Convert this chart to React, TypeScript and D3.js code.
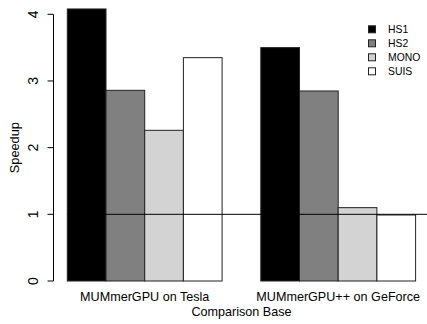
import React, { useEffect, useRef } from 'react';
import * as d3 from 'd3';

// chart values
const groups = ['MUMmerGPU on Tesla', 'MUMmerGPU++ on GeForce'];
const seriesNames = ['HS1', 'HS2', 'MONO', 'SUIS'];
const seriesColors = ['#000000', '#808080', '#d3d3d3', '#ffffff'];
const hs1 = [4.08, 3.5];
const hs2 = [2.86, 2.85];
const mono = [2.26, 1.1];
const suis = [3.35, 0.99];
const yTicks = [0, 1, 2, 3, 4];
const baseline = 1;

const W = 427;
const H = 324;
const FONT = '"Liberation Sans", Arial, Helvetica, sans-serif';

export default function App() {
  const ref = useRef<SVGSVGElement | null>(null);

  useEffect(() => {
    const svg = d3.select(ref.current);
    svg.selectAll('*').remove();

    const values = [hs1, hs2, mono, suis];
    const rows = groups.map((g, gi) => ({
      group: g,
      bars: seriesNames.map((s, si) => ({ key: s, value: values[si][gi], color: seriesColors[si] })),
    }));

    // x: outer band per group, inner band per series (R barplot beside, space = c(0,1))
    const x0 = d3.scaleBand().domain(groups).range([67.3, 415.6]).paddingInner(0.2).paddingOuter(0);
    const x1 = d3.scaleBand().domain(seriesNames).range([0, x0.bandwidth()]).padding(0);
    const y = d3.scaleLinear().domain([0, 4]).range([281, 14.3]);

    // bars
    const g = svg.selectAll('g.grp')
      .data(rows)
      .enter().append('g')
      .attr('class', 'grp')
      .attr('transform', (d) => `translate(${x0(d.group)},0)`);

    g.selectAll('rect')
      .data((d) => d.bars)
      .enter().append('rect')
      .attr('x', (d) => x1(d.key) as number)
      .attr('y', (d) => y(d.value))
      .attr('width', x1.bandwidth())
      .attr('height', (d) => y(0) - y(d.value))
      .attr('fill', (d) => d.color)
      .attr('stroke', '#222')
      .attr('stroke-width', 1);

    // reference line at speedup = 1
    svg.append('line')
      .attr('x1', x0(groups[0]) as number)
      .attr('x2', W)
      .attr('y1', y(baseline))
      .attr('y2', y(baseline))
      .attr('stroke', '#000')
      .attr('stroke-width', 1);

    // y axis (R style: ticks out, labels parallel to axis)
    const axisX = 53.5;
    const ax = svg.append('g');
    ax.append('line')
      .attr('x1', axisX).attr('x2', axisX)
      .attr('y1', y(0)).attr('y2', y(4))
      .attr('stroke', '#000');
    ax.selectAll('line.tick')
      .data(yTicks)
      .enter().append('line')
      .attr('class', 'tick')
      .attr('x1', axisX - 6).attr('x2', axisX)
      .attr('y1', (d) => y(d)).attr('y2', (d) => y(d))
      .attr('stroke', '#000');
    ax.selectAll('text')
      .data(yTicks)
      .enter().append('text')
      .attr('transform', (d) => `translate(37.5,${y(d)}) rotate(-90)`)
      .attr('text-anchor', 'middle')
      .style('font-family', FONT)
      .style('font-size', '14px')
      .text((d) => d);

    // group labels
    svg.selectAll('text.grplab')
      .data(groups)
      .enter().append('text')
      .attr('class', 'grplab')
      .attr('x', (d) => (x0(d) as number) + x0.bandwidth() / 2)
      .attr('y', 300.5)
      .attr('text-anchor', 'middle')
      .style('font-family', FONT)
      .style('font-size', '12.6px')
      .text((d) => d);

    // axis titles
    svg.append('text')
      .attr('x', 241.5)
      .attr('y', 315.5)
      .attr('text-anchor', 'middle')
      .style('font-family', FONT)
      .style('font-size', '12.6px')
      .text('Comparison Base');

    svg.append('text')
      .attr('transform', `translate(18.5,${y(2)}) rotate(-90)`)
      .attr('text-anchor', 'middle')
      .style('font-family', FONT)
      .style('font-size', '12.8px')
      .text('Speedup');

    // legend
    const lg = svg.selectAll('g.leg')
      .data(seriesNames)
      .enter().append('g')
      .attr('class', 'leg')
      .attr('transform', (d, i) => `translate(368,${29.3 + i * 14})`);
    lg.append('rect')
      .attr('x', 0.5).attr('y', -3.5)
      .attr('width', 7).attr('height', 7)
      .attr('fill', (d, i) => seriesColors[i])
      .attr('stroke', '#222');
    lg.append('text')
      .attr('x', 20)
      .attr('y', 3.8)
      .style('font-family', FONT)
      .style('font-size', '10.4px')
      .text((d) => d);
  }, []);

  return (
    <svg
      ref={ref}
      width={W}
      height={H}
      style={{ position: 'absolute', left: 0, top: 0, background: '#fff' }}
    />
  );
}
